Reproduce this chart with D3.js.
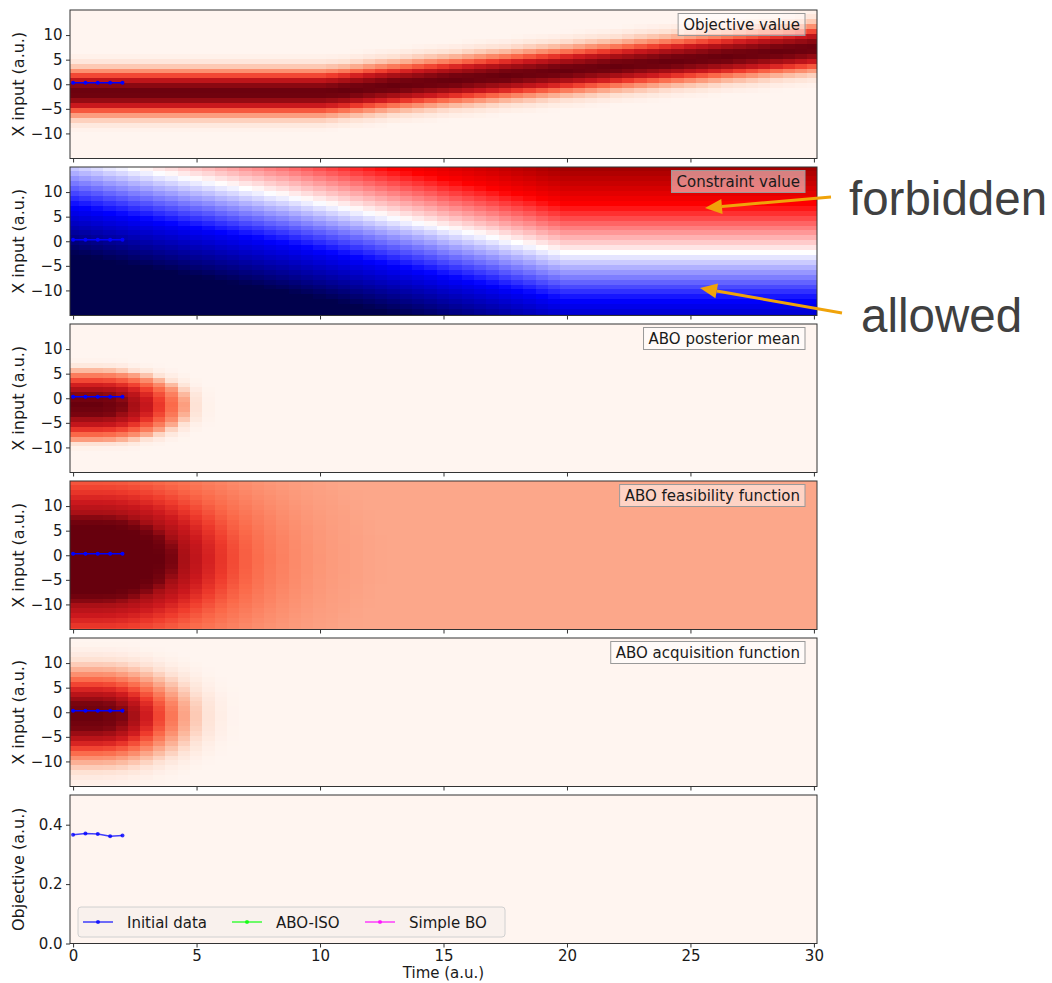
<!DOCTYPE html>
<html>
<head>
<meta charset="utf-8">
<script src="https://cdn.jsdelivr.net/npm/d3@7"></script>
<style>
  body { margin: 0; background: #ffffff; }
  svg { display: block; }
</style>
</head>
<body>
<svg id="chart" width="1052" height="983"></svg>
<script>
// ---- sampling grid of the maps: time columns every 0.5, x rows every 1 ----
const timeGrid = d3.range(61).map(i => i * 0.5);
const xGrid = d3.range(-15, 16);

// Objective: centre of the ridge for each time column, and its cross profile
const objectiveCentre = [
  -1.4, -1.4, -1.4, -1.4, -1.4, -1.4, -1.4, -1.4, -1.4, -1.4, -1.4,
  -1.4, -1.4, -1.4, -1.4, -1.4, -1.4, -1.4, -1.4, -1.4, -1.4,
  -1.25, -1.05, -0.8, -0.55, -0.3,
  -0.05, 0.17, 0.40, 0.62, 0.85, 1.07, 1.30, 1.52, 1.75, 1.97,
  2.20, 2.42, 2.65, 2.87, 3.10, 3.32, 3.55, 3.77, 4.00, 4.22,
  4.45, 4.67, 4.90, 5.12, 5.35, 5.57, 5.80, 6.02, 6.25, 6.47,
  6.70, 6.92, 7.15, 7.37, 7.60
];
const objectiveOffsets = [-8, -7, -6, -5, -4, -3, -2, -1, 0, 1, 2, 3, 4, 5, 6, 7, 8];
const objectiveProfile = [0, 0.04, 0.12, 0.26, 0.46, 0.68, 0.87, 0.97, 1, 0.97, 0.87, 0.68, 0.46, 0.26, 0.12, 0.04, 0];

// Constraint: position of the zero level for each time column
const constraintBoundary = [
  17.2, 16.8, 16.4, 15.9, 15.5, 15.0, 14.6, 14.1, 13.7, 13.2,
  12.8, 12.4, 11.9, 11.5, 11.0, 10.6, 10.1, 9.7, 9.2, 8.7,
  8.2, 7.7, 7.2, 6.7, 6.2, 5.7, 5.2, 4.7, 4.2, 3.7,
  3.1, 2.6, 2.1, 1.6, 1.1, 0.5, 0.0, -0.5, -1.1, -1.6,
  -2.0, -2.0, -2.0, -2.0, -2.0, -2.0, -2.0, -2.0, -2.0, -2.0,
  -2.0, -2.0, -2.0, -2.0, -2.0, -2.0, -2.0, -2.0, -2.0, -2.0, -2.0
];
const constraintDistance = [-19.7, 0, 19.7];   // distance from zero level
const constraintLevel = [0, 0.5, 1];           // colour position

// Model maps around the initial data: level against distance from the data
const meanRadius = [0, 1, 1.5, 2, 2.5, 3, 3.5, 4, 4.5, 5];
const meanLevel  = [1, 0.96, 0.87, 0.77, 0.64, 0.5, 0.34, 0.11, 0.02, 0];
const meanShape  = { centre: -1.2, stretch: 1.95 };

const feasRadius = [0, 2.5, 3, 3.5, 4, 4.5, 5, 5.5, 6, 6.5, 7, 7.5, 8, 8.5, 9, 9.5, 10, 10.5, 11, 11.5, 12];
const feasLevel  = [1, 1, 0.95, 0.8, 0.69, 0.59, 0.49, 0.4, 0.32, 0.26, 0.21, 0.17, 0.13, 0.1, 0.075, 0.055, 0.04, 0.03, 0.015, 0.005, 0];
const feasShape  = { centre: -0.5, stretch: 2.7 };
const feasFloor  = 0.31;

const acqRadius = [0, 1, 1.5, 2, 2.5, 3, 3.5, 4, 4.5, 5, 5.5, 6];
const acqLevel  = [1, 0.96, 0.87, 0.74, 0.6, 0.46, 0.32, 0.2, 0.1, 0.04, 0.01, 0];
const acqShape  = { centre: -0.5, stretch: 2.6 };

// Initial measurements
const initialTime = [0, 0.5, 1, 1.5, 2];
const initialX = [0.3, 0.3, 0.3, 0.3, 0.3];
const initialObjective = [0.366, 0.370, 0.369, 0.361, 0.364];

// Axes and labels
const xInputTicks = [-10, -5, 0, 5, 10];
const timeTicks = [0, 5, 10, 15, 20, 25, 30];
const objectiveTicks = [0, 0.2, 0.4];
const panelTitles = ["Objective value", "Constraint value", "ABO posterior mean",
                     "ABO feasibility function", "ABO acquisition function"];
const legendLabels = ["Initial data", "ABO-ISO", "Simple BO"];
const legendColors = ["#0000ff", "#00ff00", "#ff00ff"];

// Colour maps
const redsStops = ["#fff5f0", "#fee0d2", "#fcbba1", "#fc9272", "#fb6a4a",
                   "#ef3b2c", "#cb181d", "#a50f15", "#67000d"];
const seismicStops = ["#00004c", "#0000ff", "#ffffff", "#ff0000", "#800000"];

// ---------------------------------------------------------------------------
const svg = d3.select("#chart");
const plotLeft = 70, plotRight = 817;
const firstTop = 10, panelStep = 157, panelHeight = 148.5;
const tDomain = [-0.125, 30.125];
const xDomain = [-15.1, 15.1];
const fontFamily = "DejaVu Sans, sans-serif";
const tickSize = 15;
const labelSize = 16;
const ink = "#1a1a1a";
const dataMid = d3.mean(initialTime);

const tScale = d3.scaleLinear().domain(tDomain).range([plotLeft, plotRight]);

const reds = d3.scaleLinear()
  .domain(redsStops.map((_, i) => i / (redsStops.length - 1)))
  .range(redsStops).clamp(true);
const seismic = d3.scaleLinear()
  .domain(seismicStops.map((_, i) => i / (seismicStops.length - 1)))
  .range(seismicStops).clamp(true);

const objectiveShape = d3.scaleLinear().domain(objectiveOffsets).range(objectiveProfile).clamp(true);
const constraintShape = d3.scaleLinear().domain(constraintDistance).range(constraintLevel).clamp(true);

// level of a model map against its distance from the initial data
function modelMap(radius, level, shape) {
  const prof = d3.scaleLinear().domain(radius).range(level).clamp(true);
  return (tv, xv) => {
    const dt = Math.max(0, tv - dataMid);
    const dx = (xv - shape.centre) / shape.stretch;
    return prof(Math.hypot(dt, dx));
  };
}
const meanMap = modelMap(meanRadius, meanLevel, meanShape);
const feasMap = modelMap(feasRadius, feasLevel, feasShape);
const acqMap = modelMap(acqRadius, acqLevel, acqShape);

const panelFields = [
  { colour: reds, value: (ci, ri) => objectiveShape(xGrid[ri] - objectiveCentre[ci]) },
  { colour: seismic, value: (ci, ri) => constraintShape(xGrid[ri] - constraintBoundary[ci]) },
  { colour: reds, value: (ci, ri) => meanMap(timeGrid[ci], xGrid[ri]) },
  { colour: reds, value: (ci, ri) => feasFloor + (1 - feasFloor) * feasMap(timeGrid[ci], xGrid[ri]) },
  { colour: reds, value: (ci, ri) => acqMap(timeGrid[ci], xGrid[ri]) }
];

const defs = svg.append("defs");

function drawFrame(g, top) {
  g.append("rect")
    .attr("x", plotLeft).attr("y", top)
    .attr("width", plotRight - plotLeft).attr("height", panelHeight)
    .attr("fill", "none").attr("stroke", "#333").attr("stroke-width", 1);
}

function styleAxis(sel) {
  sel.select(".domain").remove();
  sel.selectAll(".tick line").attr("stroke", "#333").attr("stroke-width", 1);
  sel.selectAll(".tick text").attr("fill", ink).attr("font-size", tickSize)
    .attr("font-family", fontFamily);
}

function yLabel(g, top, label) {
  g.append("text")
    .attr("transform", `translate(${24},${top + panelHeight / 2}) rotate(-90)`)
    .attr("text-anchor", "middle")
    .attr("font-family", fontFamily)
    .attr("font-size", labelSize)
    .attr("fill", ink)
    .text(label);
}

panelFields.forEach((field, pi) => {
  const top = firstTop + pi * panelStep;
  const g = svg.append("g");
  const xScale = d3.scaleLinear().domain(xDomain).range([top + panelHeight, top]);

  defs.append("clipPath").attr("id", "clip" + pi)
    .append("rect").attr("x", plotLeft).attr("y", top)
    .attr("width", plotRight - plotLeft).attr("height", panelHeight);

  const cells = [];
  timeGrid.forEach((tv, ci) => {
    xGrid.forEach((xv, ri) => {
      cells.push({ t: tv, x: xv, v: field.value(ci, ri) });
    });
  });

  const left = d => Math.floor(tScale(Math.max(tDomain[0], d.t - 0.25)));
  const right = d => Math.ceil(tScale(Math.min(tDomain[1], d.t + 0.25)));
  const upper = d => Math.floor(xScale(Math.min(xDomain[1], d.x + 0.5)));
  const lower = d => Math.ceil(xScale(Math.max(xDomain[0], d.x - 0.5)));

  g.append("g").attr("clip-path", `url(#clip${pi})`)
    .selectAll("rect").data(cells).join("rect")
    .attr("x", left)
    .attr("width", d => right(d) - left(d) + 0.5)
    .attr("y", upper)
    .attr("height", d => lower(d) - upper(d) + 0.5)
    .attr("fill", d => field.colour(d.v))
    .attr("shape-rendering", "crispEdges");

  // initial measurements
  const pts = initialTime.map((tv, i) => [tv, initialX[i]]);
  const lineGen = d3.line().x(d => tScale(d[0])).y(d => xScale(d[1]));
  g.append("path").datum(pts).attr("d", lineGen)
    .attr("fill", "none").attr("stroke", "#0000ff").attr("stroke-width", 1.5);
  g.selectAll("circle.init").data(pts).join("circle").attr("class", "init")
    .attr("cx", d => tScale(d[0])).attr("cy", d => xScale(d[1])).attr("r", 2)
    .attr("fill", "#0000ff");

  drawFrame(g, top);

  g.append("g").attr("transform", `translate(${plotLeft},0)`)
    .call(d3.axisLeft(xScale).tickValues(xInputTicks).tickSize(4).tickPadding(3.5).tickFormat(d3.format("d")))
    .call(styleAxis);
  g.append("g").attr("transform", `translate(0,${top + panelHeight})`)
    .call(d3.axisBottom(tScale).tickValues(timeTicks).tickSize(4).tickFormat(""))
    .call(styleAxis);

  yLabel(g, top, "X input (a.u.)");

  // title box in the upper right corner
  const tb = g.append("g");
  const txt = tb.append("text")
    .attr("font-family", fontFamily)
    .attr("font-size", tickSize).attr("fill", ink)
    .attr("text-anchor", "end")
    .attr("x", plotRight - 17).attr("y", top + 19.5)
    .text(panelTitles[pi]);
  const w = txt.node().getComputedTextLength();
  tb.insert("rect", "text")
    .attr("x", plotRight - 17 - w - 5).attr("y", top + 3.5)
    .attr("width", w + 10).attr("height", 22)
    .attr("fill", "#ffffff").attr("fill-opacity", 0.5)
    .attr("stroke", "#999").attr("stroke-width", 1);
});

// ---- bottom panel: objective of the measurements over time ----
(function () {
  const top = firstTop + 5 * panelStep;
  const g = svg.append("g");
  const yScale = d3.scaleLinear().domain([0, 0.5]).range([top + panelHeight, top]);

  g.append("rect").attr("x", plotLeft).attr("y", top)
    .attr("width", plotRight - plotLeft).attr("height", panelHeight)
    .attr("fill", redsStops[0]);

  const pts = initialTime.map((tv, i) => [tv, initialObjective[i]]);
  g.append("path").datum(pts)
    .attr("d", d3.line().x(d => tScale(d[0])).y(d => yScale(d[1])))
    .attr("fill", "none").attr("stroke", legendColors[0]).attr("stroke-opacity", 0.75)
    .attr("stroke-width", 1.5);
  g.selectAll("circle").data(pts).join("circle")
    .attr("cx", d => tScale(d[0])).attr("cy", d => yScale(d[1])).attr("r", 2)
    .attr("fill", legendColors[0]).attr("fill-opacity", 0.8);

  drawFrame(g, top);

  g.append("g").attr("transform", `translate(${plotLeft},0)`)
    .call(d3.axisLeft(yScale).tickValues(objectiveTicks).tickSize(4).tickPadding(3.5).tickFormat(d3.format(".1f")))
    .call(styleAxis);
  g.append("g").attr("transform", `translate(0,${top + panelHeight})`)
    .call(d3.axisBottom(tScale).tickValues(timeTicks).tickSize(4).tickPadding(3).tickFormat(d3.format("d")))
    .call(styleAxis);

  yLabel(g, top, "Objective (a.u.)");

  g.append("text")
    .attr("x", (plotLeft + plotRight) / 2).attr("y", 978)
    .attr("text-anchor", "middle").attr("font-family", fontFamily)
    .attr("font-size", tickSize).attr("fill", ink)
    .text("Time (a.u.)");

  // legend
  const lg = g.append("g");
  lg.append("rect").attr("x", 78).attr("y", 907).attr("width", 427).attr("height", 30)
    .attr("rx", 3).attr("fill", "#f9f1ed").attr("stroke", "#d0d0d0").attr("stroke-width", 1);
  const entryX = [83, 232, 365];
  legendLabels.forEach((lab, i) => {
    const x0 = entryX[i];
    lg.append("line").attr("x1", x0).attr("x2", x0 + 30).attr("y1", 922).attr("y2", 922)
      .attr("stroke", legendColors[i]).attr("stroke-opacity", 0.75).attr("stroke-width", 1.5);
    lg.append("circle").attr("cx", x0 + 15).attr("cy", 922).attr("r", 2)
      .attr("fill", legendColors[i]).attr("fill-opacity", 0.8);
    lg.append("text").attr("x", x0 + 44).attr("y", 927.5)
      .attr("font-family", fontFamily)
      .attr("font-size", tickSize).attr("fill", ink).text(lab);
  });
})();

// ---- annotations on the constraint map ----
const note = svg.append("g");
const arrowColour = "#f0a30a";
function arrow(x1, y1, x2, y2) {
  const ang = Math.atan2(y2 - y1, x2 - x1);
  const len = 17, half = 7.5;
  const bx = x2 - len * Math.cos(ang), by = y2 - len * Math.sin(ang);
  note.append("line").attr("x1", x1).attr("y1", y1).attr("x2", bx).attr("y2", by)
    .attr("stroke", arrowColour).attr("stroke-width", 3);
  const px = -Math.sin(ang) * half, py = Math.cos(ang) * half;
  note.append("path")
    .attr("d", `M${x2},${y2}L${bx + px},${by + py}L${bx - px},${by - py}Z`)
    .attr("fill", arrowColour);
}
arrow(831, 197, 705, 208);
arrow(842, 313, 700, 288);
note.append("text").attr("x", 849).attr("y", 215)
  .style("font-family", "'Liberation Sans', Arial, sans-serif").attr("font-size", 47.5)
  .attr("fill", "#404040").text("forbidden");
note.append("text").attr("x", 861).attr("y", 332)
  .style("font-family", "'Liberation Sans', Arial, sans-serif").attr("font-size", 47.5)
  .attr("fill", "#404040").text("allowed");
</script>
</body>
</html>
